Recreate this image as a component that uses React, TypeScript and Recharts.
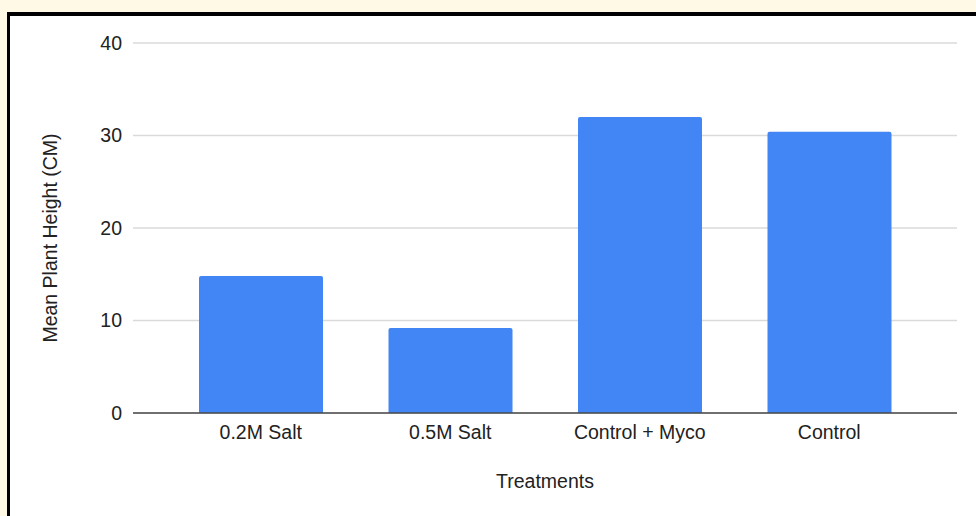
import React from "react";
import {
  BarChart,
  Bar,
  XAxis,
  YAxis,
  CartesianGrid,
} from "recharts";

const treatments = ["0.2M Salt", "0.5M Salt", "Control + Myco", "Control"];
const meanHeights = [14.8, 9.2, 32.0, 30.4];
const yTicks = [0, 10, 20, 30, 40];

const FONT = '"Liberation Sans", Arial, sans-serif';
const TEXT = "#222222";

const data = treatments.map((name, i) => ({ name, height: meanHeights[i] }));

// axis titles are drawn against the axis viewBox so they follow the plot area
const XTitle = (props: any) => {
  const vb = props.viewBox || {};
  return (
    <text
      x={vb.x + vb.width / 2}
      y={vb.y + 74.5}
      textAnchor="middle"
      fontFamily={FONT}
      fontSize={19.5}
      fill={TEXT}
    >
      Treatments
    </text>
  );
};

const YTitle = (props: any) => {
  const vb = props.viewBox || {};
  const x = vb.x + 57;
  const y = vb.y + vb.height / 2 + 10;
  return (
    <text
      x={x}
      y={y}
      transform={`rotate(-90 ${x} ${y})`}
      textAnchor="middle"
      fontFamily={FONT}
      fontSize={19.5}
      fill={TEXT}
    >
      Mean Plant Height (CM)
    </text>
  );
};

export default function App() {
  return (
    <div
      style={{
        position: "absolute",
        left: 0,
        top: 0,
        width: 976,
        height: 516,
        overflow: "hidden",
        background: "#FFF9E6",
      }}
    >
      <div
        style={{
          position: "absolute",
          left: 7,
          top: 12,
          width: 990,
          height: 530,
          background: "#ffffff",
          borderLeft: "3px solid #000",
          borderTop: "4px solid #000",
        }}
      />
      <div style={{ position: "absolute", left: 0, top: 0 }}>
        <BarChart
          width={976}
          height={516}
          data={data}
          margin={{ top: 43, right: 19, bottom: 13, left: 0 }}
        >
          <CartesianGrid
            vertical={false}
            stroke="#dadada"
            strokeWidth={1.4}
          />
          <XAxis
            dataKey="name"
            height={90}
            padding={{ left: 33, right: 33 }}
            tickLine={false}
            tickSize={0}
            tickMargin={12}
            axisLine={{ stroke: "#4a4a4a", strokeWidth: 1.6 }}
            tick={{ fontSize: 19.5, fill: TEXT, fontFamily: FONT }}
            interval={0}
            label={{ content: XTitle }}
          />
          <YAxis
            width={133}
            domain={[0, 40]}
            ticks={yTicks}
            axisLine={false}
            tickLine={false}
            tickSize={0}
            tickMargin={11}
            tick={{ fontSize: 19.5, fill: TEXT, fontFamily: FONT }}
            label={{ content: YTitle }}
          />
          <Bar
            dataKey="height"
            fill="#4285F4"
            barSize={124}
            radius={[2, 2, 0, 0]}
            isAnimationActive={false}
          />
        </BarChart>
      </div>
    </div>
  );
}
